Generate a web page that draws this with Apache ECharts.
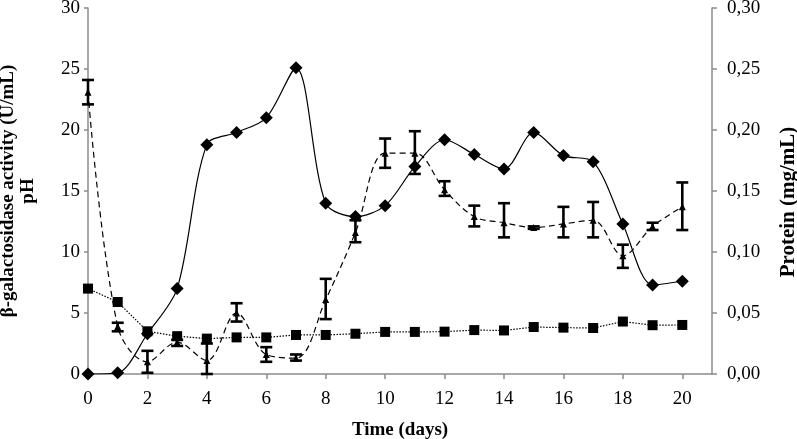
<!DOCTYPE html>
<html>
<head>
<meta charset="utf-8">
<script src="https://cdn.jsdelivr.net/npm/echarts@6/dist/echarts.min.js"></script>
<style>html,body{margin:0;padding:0;background:#fff}#c{width:797px;height:439px}</style>
</head>
<body>
<div id="c"></div>
<script>
var days = [0,1,2,3,4,5,6,7,8,9,10,11,12,13,14,15,16,17,18,19,20];
var xTicks = [0,2,4,6,8,10,12,14,16,18,20];
// β-galactosidase activity (U/mL), left axis
var activity = [0,0.1,3.3,7.0,18.8,19.8,21.0,25.1,14.0,12.9,13.8,17.0,19.2,18.0,16.8,19.8,17.9,17.4,12.3,7.3,7.6];
// pH, left axis
var pH = [7.0,5.9,3.5,3.1,2.9,3.0,3.0,3.2,3.2,3.3,3.45,3.45,3.47,3.6,3.57,3.85,3.8,3.77,4.3,4.0,4.02];
// Protein (mg/mL), right axis
var protein = [0.231,0.039,0.010,0.026,0.011,0.050,0.016,0.013,0.061,0.116,0.181,0.181,0.151,0.129,0.124,0.120,0.123,0.126,0.097,0.121,0.137];
var proteinLow = [0.221,0.035,0.001,0.023,0.000,0.043,0.010,0.011,0.045,0.108,0.169,0.164,0.146,0.121,0.112,0.119,0.112,0.112,0.087,0.118,0.118];
var proteinHigh = [0.241,0.042,0.019,0.028,0.025,0.058,0.022,0.016,0.078,0.126,0.193,0.199,0.158,0.138,0.140,0.121,0.137,0.141,0.106,0.124,0.157];

var font = '"Liberation Serif","Times New Roman",serif';
var axisCol = '#8c8c8c';
function pairs(v){ return days.map(function(d,i){ return [d, v[i]]; }); }
var errData = days.map(function(d,i){ return [d, proteinLow[i], proteinHigh[i]]; });

var chart = echarts.init(document.getElementById('c'), null, {renderer:'canvas'});
chart.setOption({
  animation:false,
  backgroundColor:'#fff',
  grid:{left:88,right:85,top:8,bottom:65,containLabel:false,outerBoundsMode:'none'},
  xAxis:{
    type:'value', min:0, max:21, interval:2,
    name:'Time (days)', nameLocation:'middle', nameGap:47,
    nameTextStyle:{fontFamily:font,fontWeight:'bold',fontSize:19,color:'#000'},
    axisLine:{lineStyle:{color:axisCol,width:1.5}},
    axisTick:{show:true,length:5,lineStyle:{color:axisCol,width:1.5},customValues:xTicks},
    axisLabel:{fontFamily:font,fontSize:19,color:'#000',margin:16,customValues:xTicks},
    splitLine:{show:false}
  },
  yAxis:[{
    type:'value', min:0, max:30, interval:5, position:'left',
    name:'β-galactosidase activity (U/mL)\npH', nameLocation:'middle', nameGap:50, nameRotate:90,
    nameTextStyle:{fontFamily:font,fontWeight:'bold',fontSize:19,color:'#000',lineHeight:20},
    axisLine:{show:true,lineStyle:{color:axisCol,width:1.5}},
    axisTick:{show:true,length:4,lineStyle:{color:axisCol,width:1.5}},
    axisLabel:{fontFamily:font,fontSize:19,color:'#000',margin:8},
    splitLine:{show:false}
  },{
    type:'value', min:0, max:0.3, interval:0.05, position:'right',
    name:'Protein (mg/mL)', nameLocation:'middle', nameGap:66, nameRotate:90,
    nameTextStyle:{fontFamily:font,fontWeight:'bold',fontSize:21,color:'#000',padding:[0,22,0,0]},
    axisLine:{show:true,lineStyle:{color:axisCol,width:1.5}},
    axisTick:{show:true,length:5,lineStyle:{color:axisCol,width:1.5}},
    axisLabel:{fontFamily:font,fontSize:19,color:'#000',margin:15,
      formatter:function(v){ return v.toFixed(2).replace('.',','); }},
    splitLine:{show:false}
  }],
  series:[{
    name:'β-galactosidase activity', type:'line', yAxisIndex:0, data:pairs(activity),
    smooth:0.3, symbol:'diamond', symbolSize:13,
    lineStyle:{color:'#000',width:1.2}, itemStyle:{color:'#000'}, z:3
  },{
    name:'pH', type:'line', yAxisIndex:0, data:pairs(pH),
    smooth:false, symbol:'rect', symbolSize:10,
    lineStyle:{color:'#000',width:1.2,type:[1.5,1.5]}, itemStyle:{color:'#000'}, z:3
  },{
    name:'Protein', type:'line', yAxisIndex:1, data:pairs(protein),
    smooth:0.35, symbol:'triangle', symbolSize:7,
    lineStyle:{color:'#000',width:1.2,type:[6,4]}, itemStyle:{color:'#000'}, z:3
  },{
    name:'Protein error', type:'custom', yAxisIndex:1, data:errData, z:4,
    renderItem:function(params, api){
      var x = api.value(0);
      var lo = api.coord([x, api.value(1)]);
      var hi = api.coord([x, api.value(2)]);
      var w = 6;
      var st = {stroke:'#000', lineWidth:2.6};
      return {type:'group', children:[
        {type:'line', shape:{x1:lo[0],y1:lo[1],x2:hi[0],y2:hi[1]}, style:st},
        {type:'line', shape:{x1:lo[0]-w,y1:lo[1],x2:lo[0]+w,y2:lo[1]}, style:st},
        {type:'line', shape:{x1:hi[0]-w,y1:hi[1],x2:hi[0]+w,y2:hi[1]}, style:st}
      ]};
    }
  }]
});
</script>
</body>
</html>
